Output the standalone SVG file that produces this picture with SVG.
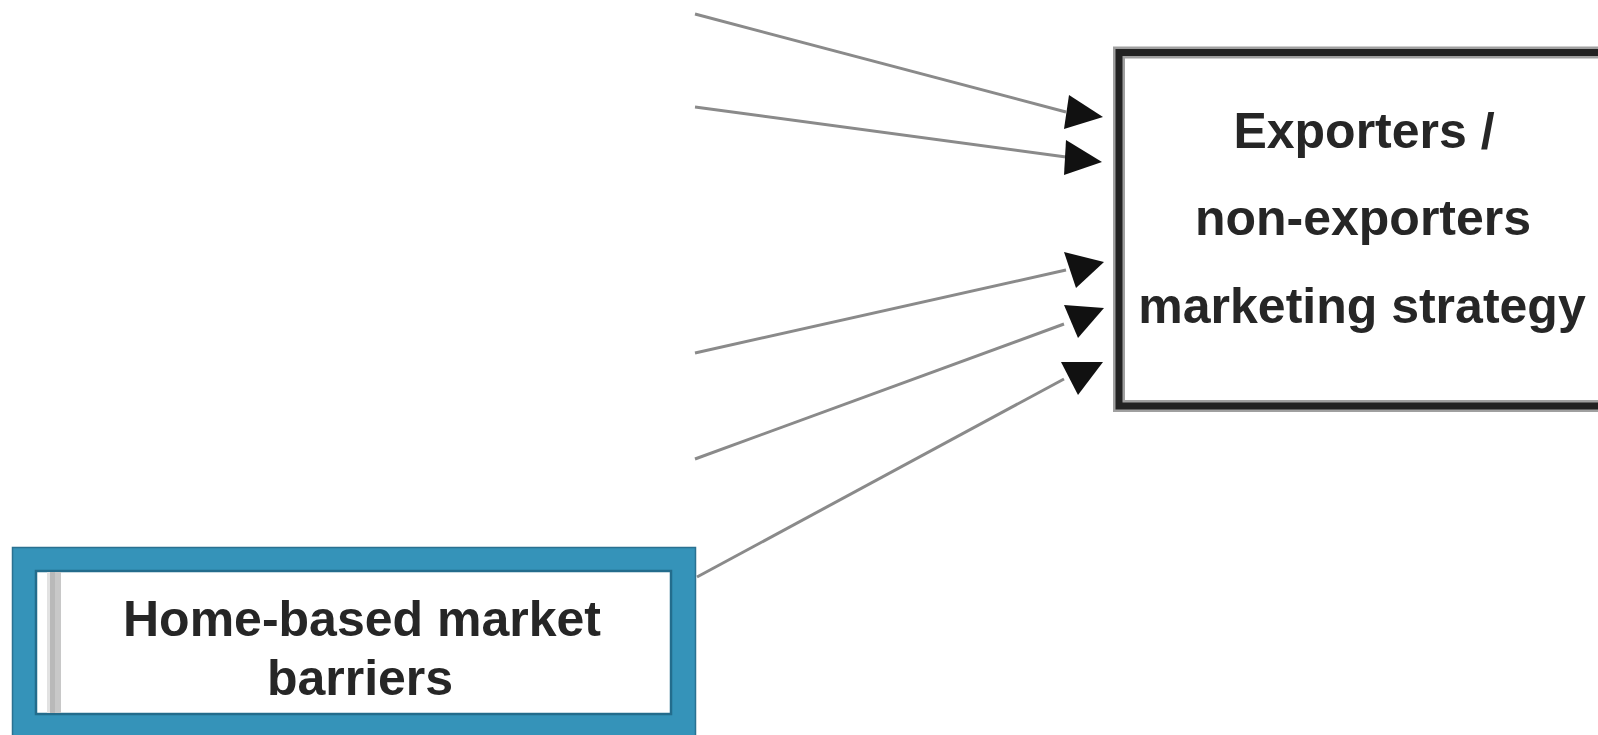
<svg xmlns="http://www.w3.org/2000/svg" width="1598" height="735" viewBox="0 0 1598 735">
<style>
.lbl{font-family:"Liberation Sans",Arial,sans-serif;font-weight:bold;font-size:50px;fill:#262626;text-anchor:middle}
.conn{stroke:#8a8a8a;stroke-width:3;fill:none}
.head{fill:#111}
</style>
<rect x="0" y="0" width="1598" height="735" fill="#fff"/>
<g id="connectors">
<line class="conn" x1="695" y1="14" x2="1066" y2="112"/>
<line class="conn" x1="695" y1="107" x2="1066" y2="157"/>
<line class="conn" x1="695" y1="353" x2="1066" y2="270"/>
<line class="conn" x1="695" y1="459" x2="1064" y2="324"/>
<line class="conn" x1="697" y1="577" x2="1064" y2="379"/>
<polygon class="head" points="1069,95 1103,117 1064,129"/>
<polygon class="head" points="1066,140 1102,162 1064,175"/>
<polygon class="head" points="1064,252 1104,262 1076,288"/>
<polygon class="head" points="1064,305 1104,308 1078,338"/>
<polygon class="head" points="1061,362 1103,362 1078,395"/>
</g>
<g id="node-strategy">
<rect x="1119" y="52.5" width="600" height="353.5" fill="#fff" stroke="#a0a0a0" stroke-width="12"/>
<rect x="1119" y="52.5" width="600" height="353.5" fill="none" stroke="#222" stroke-width="7"/>
<text class="lbl" x="1364" y="148">Exporters /</text>
<text class="lbl" x="1363" y="235">non-exporters</text>
<text class="lbl" x="1362" y="323">marketing strategy</text>
</g>
<g id="node-barriers">
<rect x="12.5" y="547.5" width="683" height="200" fill="#3593b9" stroke="#2a7191" stroke-width="1.5"/>
<rect x="36" y="571" width="635" height="143" fill="#fff" stroke="#236c8c" stroke-width="2.5"/>
<rect x="47" y="572" width="3" height="141" fill="#e2e2e2"/>
<rect x="50" y="572" width="5" height="141" fill="#b9b9b9"/>
<rect x="55" y="572" width="6" height="141" fill="#c8c8c8"/>
<text class="lbl" x="362" y="636">Home-based market</text>
<text class="lbl" x="360" y="695">barriers</text>
</g>
</svg>
